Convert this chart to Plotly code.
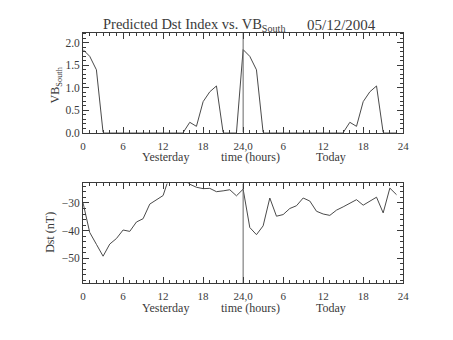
import plotly.graph_objects as go

# Hours since 00 UT yesterday (0-23 yesterday, 24-47 today)
hours = list(range(48))

# Southward solar-wind driver VB_South (mV/m)
vb_south = [1.85, 1.70, 1.40, 0.0, 0.0, 0.0, 0.0, 0.0, 0.0, 0.0, 0.0, 0.0,
            0.0, 0.0, 0.0, 0.0, 0.23, 0.14, 0.69, 0.91, 1.04, 0.0, 0.0, 0.0,
            1.85, 1.70, 1.40, 0.0, 0.0, 0.0, 0.0, 0.0, 0.0, 0.0, 0.0, 0.0,
            0.0, 0.0, 0.0, 0.0, 0.23, 0.14, 0.69, 0.91, 1.04, 0.0, 0.0, 0.0]

# Predicted Dst index (nT)
dst = [-30.0, -40.7, -45.0, -49.3, -44.9, -42.9, -39.8, -40.3, -36.9, -35.7, -30.4, -28.8,
       -27.3, -20.0, -18.0, -21.5, -23.2, -24.3, -24.8, -24.7, -25.9, -25.6, -25.2, -27.4,
       -25.0, -38.9, -41.5, -38.3, -28.2, -34.8, -34.2, -32.0, -31.0, -28.2, -29.3, -33.0,
       -34.0, -34.5, -32.6, -31.4, -30.2, -28.8, -30.8, -29.4, -27.9, -33.6, -24.6, -27.0]

tick_hours = [0, 6, 12, 18, 24, 30, 36, 42, 48]
tick_text = ["0", "6", "12", "18", "24,0", "6", "12", "18", "24"]

DAY_BOUNDARY = 24
VB_RANGE = [0, 2.227]
DST_RANGE = [-59.1, -22.9]

W, H = 453, 340
INK = "#3a3a3a"
LINE = "#4a4a4a"
FONT = "Liberation Serif"


def px(x):
    return x / W


def py(y):
    return 1 - y / H


fig = go.Figure()
fig.add_trace(go.Scatter(x=hours, y=vb_south, mode="lines",
                         line=dict(color=LINE, width=1), xaxis="x", yaxis="y",
                         showlegend=False, hoverinfo="skip"))
fig.add_trace(go.Scatter(x=hours, y=dst, mode="lines",
                         line=dict(color=LINE, width=1), xaxis="x2", yaxis="y2",
                         showlegend=False, hoverinfo="skip"))

# Day boundary marker at 24 h spanning each panel
for xa, ya, rng in (("x", "y", VB_RANGE), ("x2", "y2", DST_RANGE)):
    fig.add_trace(go.Scatter(x=[DAY_BOUNDARY, DAY_BOUNDARY], y=rng, mode="lines",
                             line=dict(color="#666666", width=1), xaxis=xa, yaxis=ya,
                             showlegend=False, hoverinfo="skip"))

xdom = [px(81.7), px(408.3)]
common_x = dict(range=[0, 48], domain=xdom, tickmode="array", tickvals=tick_hours,
                ticktext=tick_text, ticks="inside", ticklen=6, tickcolor=INK,
                showline=True, linecolor=INK, linewidth=1, mirror="ticks",
                showgrid=False, zeroline=False, ticklabelstandoff=3,
                tickfont=dict(family=FONT, size=11, color=INK),
                minor=dict(dtick=1, ticks="inside", ticklen=3, tickcolor=INK,
                           showgrid=False))
common_y = dict(ticks="inside", ticklen=6, tickcolor=INK, showline=True,
                linecolor=INK, linewidth=1, mirror="ticks", showgrid=False,
                zeroline=False, tickfont=dict(family=FONT, size=11.5, color=INK))

fig.update_layout(
    width=W, height=H, margin=dict(l=0, r=0, t=0, b=0),
    paper_bgcolor="white", plot_bgcolor="white",
    xaxis=dict(common_x, anchor="y"),
    yaxis=dict(common_y, domain=[py(135), py(33.3)], range=VB_RANGE,
               tickvals=[0, 0.5, 1.0, 1.5, 2.0],
               ticktext=["0.0", "0.5", "1.0", "1.5", "2.0"],
               minor=dict(dtick=0.1, tick0=0, ticks="inside", ticklen=3,
                          tickcolor=INK, showgrid=False), anchor="x"),
    xaxis2=dict(common_x, anchor="y2"),
    yaxis2=dict(common_y, domain=[py(288.3), py(186.7)], range=DST_RANGE,
                tickvals=[-50, -40, -30], ticktext=["\u221250", "\u221240", "\u221230"],
                minor=dict(dtick=2, tick0=0, ticks="inside", ticklen=3,
                           tickcolor=INK, showgrid=False), anchor="x2"),
)

ann = []
ann.append(dict(text="Predicted Dst Index vs. VB<sub>South</sub>", x=px(100), y=py(25),
                xanchor="left", yanchor="middle", font=dict(size=14.5)))
ann.append(dict(text="05/12/2004", x=px(345), y=py(25), xanchor="center",
                yanchor="middle", font=dict(size=15)))
ann.append(dict(text="VB<sub>South</sub>", x=px(55), y=py(86), textangle=-90,
                xanchor="center", yanchor="middle", font=dict(size=12)))
ann.append(dict(text="Dst (nT)", x=px(48), y=py(237), textangle=-90,
                xanchor="center", yanchor="middle", font=dict(size=12)))
for ylab in (160, 314):
    ann.append(dict(text="Yesterday", x=px(166), y=py(ylab), xanchor="center",
                    yanchor="middle", font=dict(size=12)))
    ann.append(dict(text="time (hours)", x=px(253), y=py(ylab), xanchor="center",
                    yanchor="middle", font=dict(size=12)))
    ann.append(dict(text="Today", x=px(334.5), y=py(ylab), xanchor="center",
                    yanchor="middle", font=dict(size=12)))
for a in ann:
    a.update(xref="paper", yref="paper", showarrow=False)
    a["font"].update(family=FONT, color=INK)
    fig.add_annotation(**a)

fig.write_html("out.html")
